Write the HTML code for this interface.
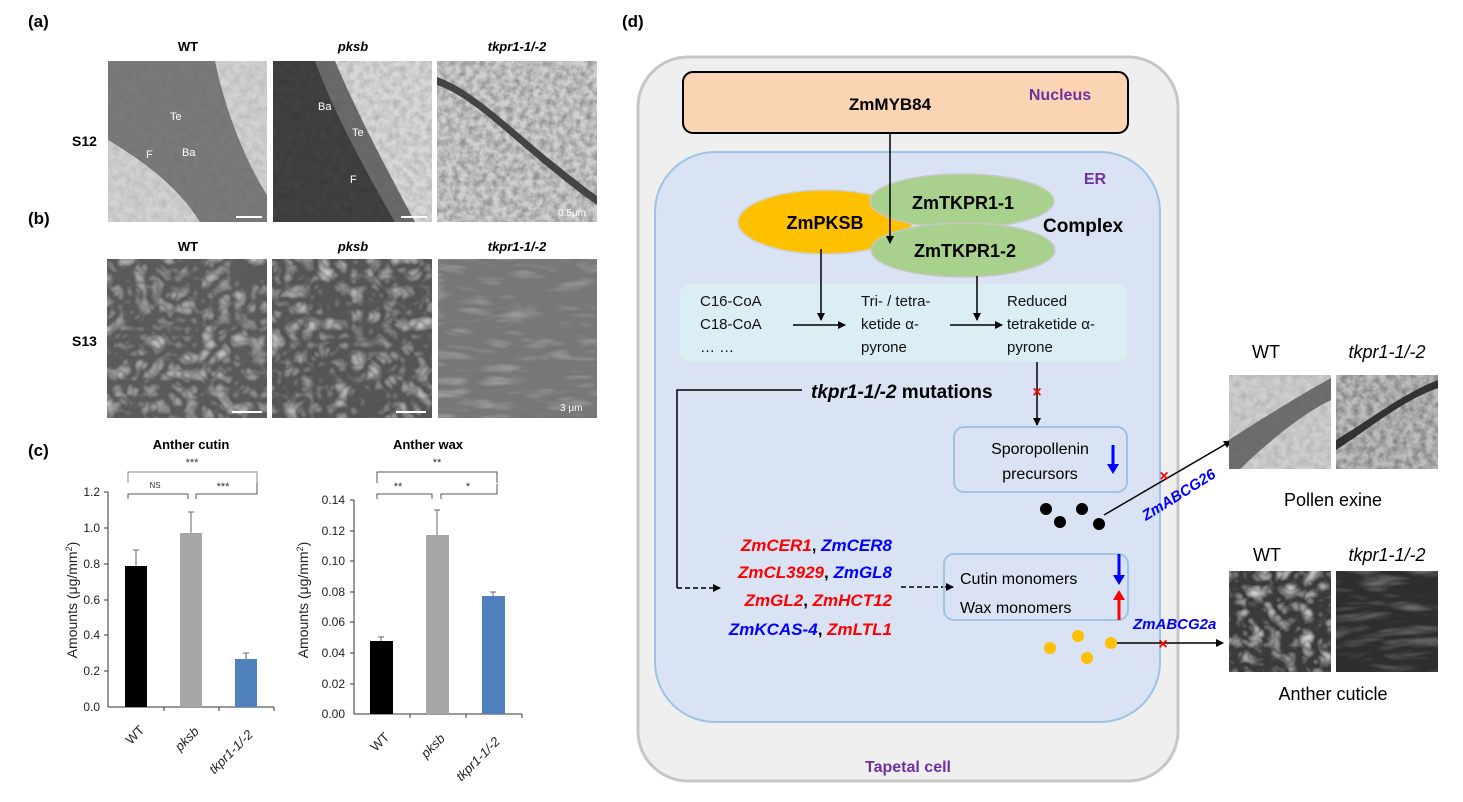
<!DOCTYPE html>
<html><head><meta charset="utf-8"><style>
html,body{margin:0;padding:0;background:#fff}
svg{display:block}
text{font-family:"Liberation Sans",Arial,sans-serif}
</style></head><body>
<svg width="1463" height="802" viewBox="0 0 1463 802" xmlns="http://www.w3.org/2000/svg">
<defs>
<marker id="ah" markerWidth="8" markerHeight="8" refX="7" refY="4" orient="auto" markerUnits="userSpaceOnUse"><path d="M0,0 L8,4 L0,8 z" fill="#000"/></marker>
<filter id="noiseL" x="0" y="0" width="100%" height="100%"><feTurbulence type="fractalNoise" baseFrequency="0.15" numOctaves="3" seed="3"/><feColorMatrix type="matrix" values="0 0 0 0 0.1 0 0 0 0 0.1 0 0 0 0 0.1 0 0 0 -1.6 1.1"/></filter>
<filter id="sem" x="0" y="0" width="100%" height="100%"><feTurbulence type="turbulence" baseFrequency="0.06" numOctaves="2" seed="7"/><feColorMatrix type="matrix" values="0 0 0 0 0.8 0 0 0 0 0.8 0 0 0 0 0.8 1.6 0 0 0 -0.25"/></filter>
<filter id="semF" x="0" y="0" width="100%" height="100%"><feTurbulence type="turbulence" baseFrequency="0.02 0.08" numOctaves="2" seed="11"/><feColorMatrix type="matrix" values="0 0 0 0 0.8 0 0 0 0 0.8 0 0 0 0 0.8 1.2 0 0 0 -0.25"/></filter>
</defs>

<!-- Panel a -->
<text x="28" y="27" font-size="17" font-weight="bold">(a)</text>
<text x="188" y="51" font-size="13" font-weight="bold" text-anchor="middle">WT</text>
<text x="353" y="51" font-size="13" font-weight="bold" font-style="italic" text-anchor="middle">pksb</text>
<text x="517" y="51" font-size="13" font-weight="bold" font-style="italic" text-anchor="middle">tkpr1-1/-2</text>
<text x="72" y="146" font-size="14" font-weight="bold">S12</text>
<g>
<rect x="108" y="61" width="159" height="161" fill="#d2d2d2"/>
<path d="M108,61 L215,61 C225,110 245,160 267,195 L267,222 L200,222 C180,190 150,165 108,140 Z" fill="#7a7a7a"/>
<rect x="108" y="61" width="159" height="161" filter="url(#noiseL)" opacity="0.2"/>
<text x="170" y="120" font-size="11" fill="#fff">Te</text><text x="146" y="158" font-size="11" fill="#fff">F</text><text x="182" y="156" font-size="11" fill="#fff">Ba</text>
<rect x="236" y="216" width="26" height="2" fill="#fff"/>
</g>
<g>
<rect x="273" y="61" width="159" height="161" fill="#d8d8d8"/>
<path d="M273,61 L330,61 C345,110 380,170 410,222 L273,222 Z" fill="#3c3c3c"/>
<path d="M315,61 L335,61 C360,120 390,175 415,222 L395,222 C365,170 335,115 315,61 Z" fill="#6a6a6a"/>
<rect x="273" y="61" width="159" height="161" filter="url(#noiseL)" opacity="0.3"/>
<text x="318" y="110" font-size="11" fill="#fff">Ba</text><text x="352" y="136" font-size="11" fill="#fff">Te</text><text x="350" y="183" font-size="11" fill="#fff">F</text>
<rect x="401" y="216" width="26" height="2" fill="#fff"/>
</g>
<g>
<rect x="437" y="61" width="160" height="161" fill="#cfcfcf"/>
<rect x="437" y="61" width="160" height="161" filter="url(#noiseL)" opacity="0.6"/>
<path d="M437,85 C480,100 520,150 597,205 L597,196 C520,140 480,92 437,77 Z" fill="#444"/>
<text x="558" y="216" font-size="10" fill="#fff">0.5μm</text>
</g>

<!-- Panel b -->
<text x="28" y="224" font-size="17" font-weight="bold">(b)</text>
<text x="188" y="251" font-size="13" font-weight="bold" text-anchor="middle">WT</text>
<text x="353" y="251" font-size="13" font-weight="bold" font-style="italic" text-anchor="middle">pksb</text>
<text x="517" y="251" font-size="13" font-weight="bold" font-style="italic" text-anchor="middle">tkpr1-1/-2</text>
<text x="72" y="346" font-size="14" font-weight="bold">S13</text>
<rect x="107" y="259" width="160" height="159" fill="#5a5a5a"/>
<rect x="107" y="259" width="160" height="159" filter="url(#sem)" opacity="0.8"/>
<rect x="232" y="411" width="30" height="2" fill="#fff"/>
<rect x="272" y="259" width="160" height="159" fill="#555"/>
<rect x="272" y="259" width="160" height="159" filter="url(#sem)" opacity="0.8"/>
<rect x="396" y="411" width="30" height="2" fill="#fff"/>
<rect x="438" y="259" width="159" height="159" fill="#777"/>
<rect x="438" y="259" width="159" height="159" filter="url(#semF)" opacity="0.6"/>
<text x="560" y="411" font-size="10" fill="#fff">3 μm</text>

<!-- Panel c -->
<text x="28" y="456" font-size="17" font-weight="bold">(c)</text>
<text x="191" y="449" font-size="13" font-weight="bold" text-anchor="middle">Anther cutin</text>
<text x="428" y="449" font-size="13" font-weight="bold" text-anchor="middle">Anther wax</text>
<g font-size="11" fill="#333">
<text x="192" y="466" text-anchor="middle">***</text>
<path d="M128,483 V472 H257 V483" fill="none" stroke="#888" stroke-width="1"/>
<text x="155" y="488" text-anchor="middle" font-size="8">NS</text>
<text x="223" y="490" text-anchor="middle">***</text>
<path d="M128,499 V494 H188 V499 M196,499 V494 H257 V483" fill="none" stroke="#555" stroke-width="1"/>
<text x="437" y="466" text-anchor="middle">**</text>
<path d="M377,483 V472 H497 V483" fill="none" stroke="#555" stroke-width="1"/>
<text x="398" y="490" text-anchor="middle">**</text>
<text x="468" y="490" text-anchor="middle">*</text>
<path d="M377,499 V494 H432 V499 M441,499 V494 H497 V484" fill="none" stroke="#555" stroke-width="1"/>
</g>
<g font-size="12" fill="#222">
<line x1="108" y1="492" x2="108" y2="707" stroke="#333"/>
<line x1="108" y1="707" x2="274" y2="707" stroke="#333"/>
<g stroke="#333"><line x1="104" y1="492" x2="108" y2="492"/><line x1="104" y1="528" x2="108" y2="528"/><line x1="104" y1="564" x2="108" y2="564"/><line x1="104" y1="600" x2="108" y2="600"/><line x1="104" y1="635" x2="108" y2="635"/><line x1="104" y1="671" x2="108" y2="671"/><line x1="164" y1="707" x2="164" y2="711"/><line x1="219" y1="707" x2="219" y2="711"/><line x1="274" y1="707" x2="274" y2="711"/></g>
<text x="100" y="496" text-anchor="end">1.2</text><text x="100" y="532" text-anchor="end">1.0</text><text x="100" y="568" text-anchor="end">0.8</text><text x="100" y="604" text-anchor="end">0.6</text><text x="100" y="639" text-anchor="end">0.4</text><text x="100" y="675" text-anchor="end">0.2</text><text x="100" y="711" text-anchor="end">0.0</text>
<rect x="125" y="566" width="22" height="141" fill="#000"/>
<rect x="180" y="533" width="22" height="174" fill="#a6a6a6"/>
<rect x="235" y="659" width="22" height="48" fill="#4f81bd"/>
<g stroke="#666"><path d="M136,566 V550 M133,550 H139"/><path d="M191,533 V512 M188,512 H194"/><path d="M246,659 V653 M243,653 H249"/></g>
<text transform="translate(77,600) rotate(-90)" text-anchor="middle" font-size="14">Amounts (μg/mm<tspan font-size="9" dy="-5">2</tspan><tspan dy="5">)</tspan></text>
<text transform="translate(138,738) rotate(-45)" text-anchor="middle" font-size="13">WT</text>
<text transform="translate(190,742) rotate(-45)" text-anchor="middle" font-size="13" font-style="italic">pksb</text>
<text transform="translate(234,755) rotate(-45)" text-anchor="middle" font-size="13" font-style="italic">tkpr1-1/-2</text>
</g>
<g font-size="12" fill="#222">
<line x1="354" y1="500" x2="354" y2="714" stroke="#333"/>
<line x1="354" y1="714" x2="522" y2="714" stroke="#333"/>
<g stroke="#333"><line x1="350" y1="500" x2="354" y2="500"/><line x1="350" y1="531" x2="354" y2="531"/><line x1="350" y1="561" x2="354" y2="561"/><line x1="350" y1="592" x2="354" y2="592"/><line x1="350" y1="622" x2="354" y2="622"/><line x1="350" y1="653" x2="354" y2="653"/><line x1="350" y1="684" x2="354" y2="684"/><line x1="410" y1="714" x2="410" y2="718"/><line x1="466" y1="714" x2="466" y2="718"/><line x1="522" y1="714" x2="522" y2="718"/></g>
<text x="345" y="504" text-anchor="end">0.14</text><text x="345" y="535" text-anchor="end">0.12</text><text x="345" y="565" text-anchor="end">0.10</text><text x="345" y="596" text-anchor="end">0.08</text><text x="345" y="626" text-anchor="end">0.06</text><text x="345" y="657" text-anchor="end">0.04</text><text x="345" y="688" text-anchor="end">0.02</text><text x="345" y="718" text-anchor="end">0.00</text>
<rect x="370" y="641" width="23" height="73" fill="#000"/>
<rect x="426" y="535" width="23" height="179" fill="#a6a6a6"/>
<rect x="482" y="596" width="23" height="118" fill="#4f81bd"/>
<g stroke="#666"><path d="M381,641 V637 M378,637 H384"/><path d="M437,535 V510 M434,510 H440"/><path d="M493,596 V592 M490,592 H496"/></g>
<text transform="translate(308,600) rotate(-90)" text-anchor="middle" font-size="14">Amounts (μg/mm<tspan font-size="9" dy="-5">2</tspan><tspan dy="5">)</tspan></text>
<text transform="translate(383,745) rotate(-45)" text-anchor="middle" font-size="13">WT</text>
<text transform="translate(436,749) rotate(-45)" text-anchor="middle" font-size="13" font-style="italic">pksb</text>
<text transform="translate(481,762) rotate(-45)" text-anchor="middle" font-size="13" font-style="italic">tkpr1-1/-2</text>
</g>

<!-- Panel d -->
<text x="622" y="27" font-size="17" font-weight="bold">(d)</text>
<rect x="638" y="57" width="540" height="724" rx="50" fill="#efefef" stroke="#c6c6c6" stroke-width="3"/>
<rect x="683" y="72" width="445" height="61" rx="10" fill="#fbd4b4" stroke="#000" stroke-width="2"/>
<text x="890" y="110" font-size="17" font-weight="bold" text-anchor="middle">ZmMYB84</text>
<text x="1060" y="100" font-size="16" font-weight="bold" fill="#7030a0" text-anchor="middle">Nucleus</text>
<rect x="655" y="152" width="505" height="570" rx="60" fill="#dae3f3" stroke="#9dc3e6" stroke-width="2"/>
<text x="1095" y="184" font-size="16" font-weight="bold" fill="#7030a0" text-anchor="middle">ER</text>
<ellipse cx="825" cy="222" rx="87" ry="32" fill="#ffc000" stroke="#d0d0d0" stroke-width="1.5"/>
<ellipse cx="962" cy="201" rx="92" ry="27" fill="#a9d18e" stroke="#c8c8c8" stroke-width="1.5"/>
<ellipse cx="963" cy="250" rx="92" ry="27" fill="#a9d18e" stroke="#c8c8c8" stroke-width="1.5"/>
<text x="825" y="229" font-size="18" font-weight="bold" text-anchor="middle">ZmPKSB</text>
<text x="963" y="209" font-size="18" font-weight="bold" text-anchor="middle">ZmTKPR1-1</text>
<text x="965" y="257" font-size="18" font-weight="bold" text-anchor="middle">ZmTKPR1-2</text>
<text x="1043" y="232" font-size="19" font-weight="bold">Complex</text>
<line x1="890" y1="133" x2="890" y2="243" stroke="#000" stroke-width="1.5" marker-end="url(#ah)"/>
<rect x="680" y="284" width="447" height="78" rx="10" fill="#dbeef4"/>
<g font-size="15" fill="#111">
<text x="700" y="306">C16-CoA</text><text x="700" y="329">C18-CoA</text><text x="700" y="352">… …</text>
<text x="861" y="306">Tri- / tetra-</text><text x="861" y="329">ketide α-</text><text x="861" y="352">pyrone</text>
<text x="1007" y="306">Reduced</text><text x="1007" y="329">tetraketide α-</text><text x="1007" y="352">pyrone</text>
</g>
<g stroke="#000" stroke-width="1.5" fill="none">
<line x1="793" y1="325" x2="845" y2="325" marker-end="url(#ah)"/>
<line x1="950" y1="325" x2="1002" y2="325" marker-end="url(#ah)"/>
<line x1="821" y1="249" x2="821" y2="320" marker-end="url(#ah)"/>
<line x1="977" y1="276" x2="977" y2="320" marker-end="url(#ah)"/>
<line x1="1037" y1="362" x2="1037" y2="425" marker-end="url(#ah)"/>
<path d="M802,390 H677 V588"/>
<line x1="677" y1="588" x2="720" y2="588" stroke-dasharray="5,3" marker-end="url(#ah)"/>
<line x1="901" y1="587" x2="953" y2="587" stroke-dasharray="5,3" marker-end="url(#ah)"/>
</g>
<text x="1037" y="397" font-size="16" font-weight="bold" fill="#f00" text-anchor="middle">×</text>
<text x="811" y="398" font-size="19" font-weight="bold"><tspan font-style="italic">tkpr1-1/-2</tspan> mutations</text>
<rect x="954" y="427" width="173" height="65" rx="10" fill="none" stroke="#9dc3e6" stroke-width="2"/>
<text x="1040" y="454" font-size="16" text-anchor="middle">Sporopollenin</text>
<text x="1040" y="479" font-size="16" text-anchor="middle">precursors</text>
<path d="M1113,445 V466" stroke="#00f" stroke-width="3"/><path d="M1107,464 L1113,474 L1119,464 z" fill="#00f"/>
<g fill="#000"><circle cx="1046" cy="509" r="6"/><circle cx="1082" cy="509" r="6"/><circle cx="1060" cy="522" r="6"/><circle cx="1099" cy="524" r="6"/></g>
<g font-size="17" font-weight="bold" font-style="italic" text-anchor="end">
<text x="892" y="551"><tspan fill="#f00">ZmCER1</tspan><tspan fill="#000" font-style="normal">, </tspan><tspan fill="#00f">ZmCER8</tspan></text>
<text x="892" y="578"><tspan fill="#f00">ZmCL3929</tspan><tspan fill="#000" font-style="normal">, </tspan><tspan fill="#00f">ZmGL8</tspan></text>
<text x="892" y="606"><tspan fill="#f00">ZmGL2</tspan><tspan fill="#000" font-style="normal">, </tspan><tspan fill="#f00">ZmHCT12</tspan></text>
<text x="892" y="635"><tspan fill="#00f">ZmKCAS-4</tspan><tspan fill="#000" font-style="normal">, </tspan><tspan fill="#f00">ZmLTL1</tspan></text>
</g>
<rect x="944" y="554" width="184" height="66" rx="10" fill="none" stroke="#9dc3e6" stroke-width="2"/>
<text x="960" y="584" font-size="16">Cutin monomers</text>
<text x="960" y="613" font-size="16">Wax monomers</text>
<path d="M1119,554 V577" stroke="#00f" stroke-width="3"/><path d="M1113,575 L1119,585 L1125,575 z" fill="#00f"/>
<path d="M1119,620 V598" stroke="#f00" stroke-width="3"/><path d="M1113,600 L1119,590 L1125,600 z" fill="#f00"/>
<g fill="#ffc000"><circle cx="1050" cy="648" r="6"/><circle cx="1078" cy="636" r="6"/><circle cx="1087" cy="658" r="6"/><circle cx="1111" cy="643" r="6"/></g>
<line x1="1117" y1="643" x2="1223" y2="643" stroke="#000" stroke-width="1.5" marker-end="url(#ah)"/>
<text x="1163" y="649" font-size="16" font-weight="bold" fill="#f00" text-anchor="middle">×</text>
<text x="1133" y="629" font-size="15" font-weight="bold" font-style="italic" fill="#00f">ZmABCG2a</text>
<line x1="1104" y1="515" x2="1231" y2="441" stroke="#000" stroke-width="1.5" marker-end="url(#ah)"/>
<text x="1164" y="481" font-size="16" font-weight="bold" fill="#f00" text-anchor="middle">×</text>
<text transform="translate(1146,521) rotate(-32)" font-size="15" font-weight="bold" font-style="italic" fill="#00f">ZmABCG26</text>
<text x="908" y="772" font-size="16" font-weight="bold" fill="#7030a0" text-anchor="middle">Tapetal cell</text>

<text x="1266" y="358" font-size="18" text-anchor="middle">WT</text>
<text x="1387" y="358" font-size="18" font-style="italic" text-anchor="middle">tkpr1-1/-2</text>
<rect x="1229" y="375" width="102" height="94" fill="#cfcfcf"/>
<path d="M1229,440 C1260,420 1300,395 1331,378 L1331,400 C1300,415 1265,445 1240,469 L1229,469 Z" fill="#6e6e6e"/>
<rect x="1229" y="375" width="102" height="94" filter="url(#noiseL)" opacity="0.25"/>
<rect x="1336" y="375" width="102" height="94" fill="#bdbdbd"/>
<rect x="1336" y="375" width="102" height="94" filter="url(#noiseL)" opacity="0.7"/>
<path d="M1336,440 C1370,420 1400,395 1438,380 L1438,388 C1400,402 1370,428 1336,450 Z" fill="#333"/>
<text x="1333" y="506" font-size="18" text-anchor="middle">Pollen exine</text>
<text x="1267" y="561" font-size="18" text-anchor="middle">WT</text>
<text x="1387" y="561" font-size="18" font-style="italic" text-anchor="middle">tkpr1-1/-2</text>
<rect x="1229" y="571" width="102" height="101" fill="#3a3a3a"/>
<rect x="1229" y="571" width="102" height="101" filter="url(#sem)"/>
<rect x="1336" y="571" width="102" height="101" fill="#2e2e2e"/>
<rect x="1336" y="571" width="102" height="101" filter="url(#semF)" opacity="0.5"/>
<text x="1333" y="700" font-size="18" text-anchor="middle">Anther cuticle</text>
</svg>
</body></html>
